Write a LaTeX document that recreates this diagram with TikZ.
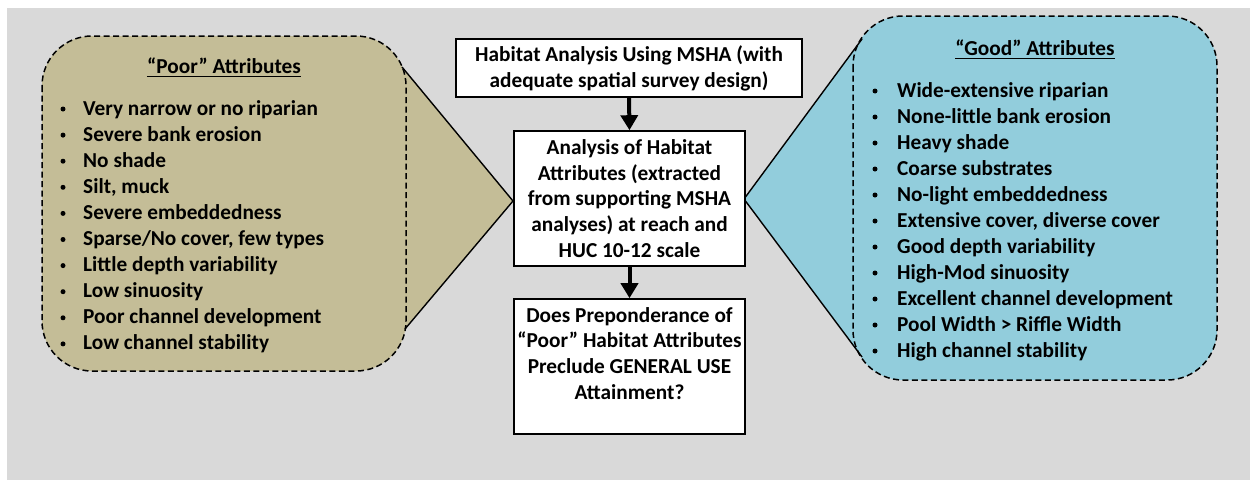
\documentclass[tikz,border=0pt]{standalone}
\usepackage{fontspec}
\setmainfont{Carlito}
\usetikzlibrary{arrows.meta}
\definecolor{bggray}{HTML}{D9D9D9}
\definecolor{tanfill}{HTML}{C4BD97}
\definecolor{aquafill}{HTML}{92CDDC}
\begin{document}
\begin{tikzpicture}[x=1pt,y=-1pt,
  font=\fontsize{21.3}{25.8}\selectfont\bfseries,
  box/.style={draw=black, line width=1.6pt, fill=white, inner sep=0pt},
  txt/.style={inner sep=0pt, align=center},
  callout/.style={dash pattern=on 6pt off 3.5pt, line width=1.5pt, rounded corners=50pt},
  pointer/.style={line width=1.4pt, line join=miter},
  arr/.style={line width=4pt, -{Triangle[width=17pt,length=15pt]}},
  item/.style={anchor=base west, inner sep=0pt},
  bul/.style={circle, fill=black, inner sep=0pt, minimum size=5pt},
  uline/.style={line width=1.3pt}]
\useasboundingbox (0,0) rectangle (1250,480);
\fill[bggray] (7,8) rectangle (1250,480);

% ---- left callout ("Poor") ----
\coordinate (pA) at (402,67);
\coordinate (pT) at (513,201);
\coordinate (pB) at (405,329);
\fill[tanfill] (pA) -- (pT) -- (pB) -- cycle;
\draw[callout, fill=tanfill] (42,36) rectangle (406,371);
\draw[pointer] (pA) -- (pT) -- (pB);
\node[inner sep=0pt, anchor=base] (ptitle) at (224,73) {“Poor” Attributes};
\draw[uline] ([yshift=-3.5pt]ptitle.base west) -- ([yshift=-3.5pt]ptitle.base east);
\foreach \t [count=\i] in {Very narrow or no riparian, Severe bank erosion, No shade, {Silt, muck}, Severe embeddedness, {Sparse/No cover, few types}, Little depth variability, Low sinuosity, Poor channel development, Low channel stability}{
  \node[bul] (pb\i) at (63,{109+26.1*(\i-1)}) {};
  \node[item] (pi\i) at (83,{115+26.1*(\i-1)}) {\t};
}

% ---- right callout ("Good") ----
\coordinate (gA) at (862,39);
\coordinate (gT) at (744,199);
\coordinate (gB) at (862,357);
\fill[aquafill] (gA) -- (gT) -- (gB) -- cycle;
\draw[callout, fill=aquafill] (853,16) rectangle (1217,380);
\draw[pointer] (gA) -- (gT) -- (gB);
\node[inner sep=0pt, anchor=base] (gtitle) at (1035,55) {“Good” Attributes};
\draw[uline] ([yshift=-3.5pt]gtitle.base west) -- ([yshift=-3.5pt]gtitle.base east);
\foreach \t [count=\i] in {Wide-extensive riparian, None-little bank erosion, Heavy shade, Coarse substrates, No-light embeddedness, {Extensive cover, diverse cover}, Good depth variability, High-Mod sinuosity, Excellent channel development, Pool Width > Riffle Width, High channel stability}{
  \node[bul] (gb\i) at (875,{91+26*(\i-1)}) {};
  \node[item] (gi\i) at (897,{97+26*(\i-1)}) {\t};
}

% ---- central flow ----
\node[box, minimum width=346pt, minimum height=58pt] (b1) at (629,68) {};
\node[txt] (b1t) at (b1.center) {Habitat Analysis Using MSHA (with\\adequate spatial survey design)};
\node[box, minimum width=231pt, minimum height=135pt] (b2) at (629.5,198.5) {};
\node[txt] (b2t) at (b2.center) {Analysis of Habitat\\Attributes (extracted\\from supporting MSHA\\analyses) at reach and\\HUC 10-12 scale};
\node[box, minimum width=231pt, minimum height=135pt] (b3) at (629.5,366.5) {};
\node[txt, anchor=north] (b3t) at (629.5,307) {Does Preponderance of\\“Poor” Habitat Attributes\\Preclude GENERAL USE\\Attainment?};
\draw[arr] (b1.south) -- (b2.north);
\draw[arr] (b2.south) -- (b3.north);
\end{tikzpicture}
\end{document}
